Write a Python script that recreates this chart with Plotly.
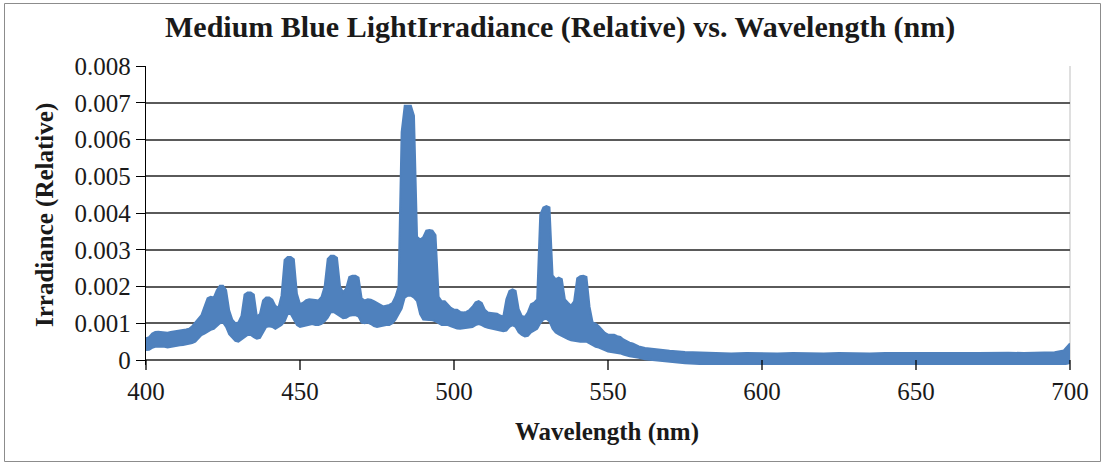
import plotly.graph_objects as go

# ---- data (band edges of the noisy spectrum) ----
wavelength_nm = [
    400, 401, 402, 403, 404, 405, 406, 407, 408, 409,
    410, 411, 412, 413, 414, 415, 416, 417, 418, 419,
    420, 421, 422, 423, 424, 425, 426, 427, 428, 429,
    430, 431, 432, 433, 434, 435, 436, 437, 438, 439,
    440, 441, 442, 443, 444, 445, 446, 447, 448, 449,
    450, 451, 452, 453, 454, 455, 456, 457, 458, 459,
    460, 461, 462, 463, 464, 465, 466, 467, 468, 469,
    470, 471, 472, 473, 474, 475, 476, 477, 478, 479,
    480, 481, 482, 483, 484, 485, 486, 487, 488, 489,
    490, 491, 492, 493, 494, 495, 496, 497, 498, 499,
    500, 501, 502, 503, 504, 505, 506, 507, 508, 509,
    510, 511, 512, 513, 514, 515, 516, 517, 518, 519,
    520, 521, 522, 523, 524, 525, 526, 527, 528, 529,
    530, 531, 532, 533, 534, 535, 536, 537, 538, 539,
    540, 541, 542, 543, 544, 545, 546, 547, 548, 549,
    550, 551, 552, 553, 554, 555, 556, 557, 558, 559,
    560, 562, 564, 566, 568, 570, 575, 580, 585, 590,
    595, 600, 605, 610, 615, 620, 625, 630, 635, 640,
    645, 650, 655, 660, 665, 670, 675, 680, 685, 690,
    695, 698, 699, 700,
]

irradiance_upper = [
    0.00059, 0.00062, 0.00072, 0.00076, 0.00077, 0.00076, 0.00075, 0.00074, 0.00076, 0.00078,
    0.00080, 0.00080, 0.00082, 0.00083, 0.00085, 0.00092, 0.00102, 0.00115, 0.00122, 0.00145,
    0.00168, 0.00172, 0.00170, 0.00190, 0.00202, 0.00202, 0.00190, 0.00135, 0.00110, 0.00100,
    0.00102, 0.00120, 0.00178, 0.00184, 0.00184, 0.00178, 0.00118, 0.00125, 0.00162, 0.00170,
    0.00170, 0.00164, 0.00147, 0.00142, 0.00175, 0.00272, 0.00280, 0.00280, 0.00274, 0.00180,
    0.00152, 0.00156, 0.00163, 0.00165, 0.00165, 0.00163, 0.00162, 0.00172, 0.00200, 0.00275,
    0.00284, 0.00284, 0.00278, 0.00200, 0.00184, 0.00195, 0.00226, 0.00229, 0.00229, 0.00224,
    0.00168, 0.00162, 0.00165, 0.00164, 0.00160, 0.00155, 0.00150, 0.00146, 0.00148, 0.00150,
    0.00155, 0.00172, 0.00200, 0.00620, 0.00692, 0.00692, 0.00692, 0.00665, 0.00335, 0.00328,
    0.00334, 0.00352, 0.00354, 0.00352, 0.00340, 0.00172, 0.00160, 0.00160, 0.00152, 0.00142,
    0.00137, 0.00137, 0.00131, 0.00129, 0.00131, 0.00136, 0.00145, 0.00157, 0.00160, 0.00155,
    0.00137, 0.00129, 0.00128, 0.00126, 0.00126, 0.00121, 0.00118, 0.00165, 0.00188, 0.00192,
    0.00188, 0.00138, 0.00120, 0.00117, 0.00130, 0.00152, 0.00156, 0.00165, 0.00395, 0.00415,
    0.00419, 0.00415, 0.00230, 0.00220, 0.00224, 0.00220, 0.00165, 0.00156, 0.00148, 0.00160,
    0.00222, 0.00228, 0.00229, 0.00226, 0.00145, 0.00102, 0.00099, 0.00092, 0.00082, 0.00074,
    0.00069, 0.00069, 0.00069, 0.00065, 0.00063, 0.00056, 0.00051, 0.00047, 0.00045, 0.00041,
    0.00037, 0.00033, 0.00031, 0.00029, 0.00027, 0.00025, 0.00022, 0.00020, 0.00019, 0.00018,
    0.00019, 0.00018, 0.00018, 0.00019, 0.00018, 0.00018, 0.00019, 0.00018, 0.00018, 0.00019,
    0.00018, 0.00019, 0.00019, 0.00020, 0.00019, 0.00019, 0.00020, 0.00020, 0.00019, 0.00020,
    0.00021, 0.00026, 0.00035, 0.00045,
]

irradiance_lower = [
    0.00027, 0.00028, 0.00033, 0.00036, 0.00036, 0.00037, 0.00036, 0.00034, 0.00036, 0.00038,
    0.00039, 0.00040, 0.00041, 0.00042, 0.00044, 0.00046, 0.00050, 0.00060, 0.00068, 0.00072,
    0.00078, 0.00082, 0.00085, 0.00092, 0.00100, 0.00102, 0.00090, 0.00070, 0.00062, 0.00052,
    0.00050, 0.00055, 0.00062, 0.00068, 0.00068, 0.00062, 0.00058, 0.00060, 0.00075, 0.00090,
    0.00092, 0.00090, 0.00085, 0.00090, 0.00095, 0.00105, 0.00125, 0.00125, 0.00110, 0.00095,
    0.00090, 0.00092, 0.00095, 0.00098, 0.00098, 0.00095, 0.00095, 0.00098, 0.00105, 0.00115,
    0.00130, 0.00130, 0.00125, 0.00118, 0.00114, 0.00115, 0.00120, 0.00122, 0.00122, 0.00118,
    0.00102, 0.00100, 0.00102, 0.00098, 0.00092, 0.00090, 0.00092, 0.00092, 0.00095, 0.00095,
    0.00100, 0.00110, 0.00125, 0.00140, 0.00170, 0.00175, 0.00175, 0.00170, 0.00160, 0.00125,
    0.00110, 0.00110, 0.00110, 0.00108, 0.00105, 0.00100, 0.00095, 0.00095, 0.00095, 0.00092,
    0.00088, 0.00086, 0.00085, 0.00086, 0.00088, 0.00088, 0.00090, 0.00095, 0.00098, 0.00095,
    0.00090, 0.00088, 0.00086, 0.00085, 0.00083, 0.00080, 0.00078, 0.00080, 0.00090, 0.00095,
    0.00090, 0.00075, 0.00068, 0.00064, 0.00066, 0.00075, 0.00080, 0.00085, 0.00100, 0.00110,
    0.00112, 0.00105, 0.00085, 0.00075, 0.00070, 0.00065, 0.00060, 0.00057, 0.00054, 0.00052,
    0.00052, 0.00050, 0.00050, 0.00050, 0.00045, 0.00040, 0.00036, 0.00034, 0.00030, 0.00026,
    0.00023, 0.00022, 0.00021, 0.00019, 0.00018, 0.00015, 0.00012, 0.00010, 0.00009, 0.00008,
    0.00006, 0.00002, 0.00000, -0.00002, -0.00004, -0.00006, -0.00009, -0.00011, -0.00012, -0.00012,
    -0.00013, -0.00012, -0.00013, -0.00012, -0.00012, -0.00013, -0.00012, -0.00013, -0.00012, -0.00012,
    -0.00013, -0.00012, -0.00013, -0.00012, -0.00012, -0.00013, -0.00012, -0.00013, -0.00012, -0.00012,
    -0.00013, -0.00012, -0.00010, -0.00008,
]

x_tick_values = [400, 450, 500, 550, 600, 650, 700]
y_tick_values = [0, 0.001, 0.002, 0.003, 0.004, 0.005, 0.006, 0.007, 0.008]
y_tick_labels = ["0", "0.001", "0.002", "0.003", "0.004", "0.005", "0.006", "0.007", "0.008"]

chart_title = "Medium Blue LightIrradiance (Relative) vs. Wavelength (nm)"
x_title = "Wavelength (nm)"
y_title = "Irradiance (Relative)"

# ---- styling ----
BLUE = "#4F81BD"
FONT = "Liberation Serif"
TXT = "#1a1a1a"
W, H = 1104, 463
L, R, T, B = 146, 34, 66, 98          # plot area: x 146..1070, y 66..365
PW, PH = W - L - R, H - T - B
X_RANGE = [400, 700]
Y_RANGE = [-0.000136, 0.008]          # value 0 sits at y = 360 px


def px_x(px):
    return (px - L) / PW


def px_y(py):
    return (H - B - py) / PH


fig = go.Figure()
fig.add_trace(go.Scatter(
    x=wavelength_nm, y=irradiance_lower, mode="lines",
    line=dict(color=BLUE, width=2), hoverinfo="skip", showlegend=False,
))
fig.add_trace(go.Scatter(
    x=wavelength_nm, y=irradiance_upper, mode="lines",
    line=dict(color=BLUE, width=2), fill="tonexty", fillcolor=BLUE,
    name="Irradiance", showlegend=False,
))

fig.update_layout(
    width=W, height=H,
    margin=dict(l=L, r=R, t=T, b=B),
    paper_bgcolor="white", plot_bgcolor="white",
    font=dict(family=FONT, size=25, color=TXT),
    showlegend=False,
)

fig.update_xaxes(
    range=X_RANGE, tickvals=x_tick_values,
    showgrid=False, zeroline=False, showline=False,
    ticks="outside", ticklen=4, tickcolor="rgba(0,0,0,0)",
    tickfont=dict(family=FONT, size=25, color=TXT),
)
fig.update_yaxes(
    range=Y_RANGE, tickvals=y_tick_values, ticktext=y_tick_labels,
    showgrid=True, gridcolor="#5a5a5a", gridwidth=1.5, zeroline=False,
    showline=True, linecolor="black", linewidth=1.3,
    ticks="outside", ticklen=9, tickwidth=1.3, tickcolor="black",
    tickfont=dict(family=FONT, size=25, color=TXT),
    layer="below traces",
)

# x axis line at value 0 (under the data band) and its tick marks
fig.add_shape(type="line", xref="paper", yref="y", x0=0, x1=1, y0=0, y1=0,
              line=dict(color="black", width=1.3), layer="between")
for v in x_tick_values:
    xp = (v - X_RANGE[0]) / (X_RANGE[1] - X_RANGE[0])
    fig.add_shape(type="line", xref="paper", yref="paper", x0=xp, x1=xp,
                  y0=px_y(360), y1=px_y(370), line=dict(color="black", width=1.3))

# plot-area right edge (light grey) and whole-chart border
fig.add_shape(type="line", xref="paper", yref="paper", x0=1, x1=1, y0=px_y(360), y1=1,
              line=dict(color="#BFBFBF", width=1), layer="below")
fig.add_shape(type="rect", xref="paper", yref="paper",
              x0=px_x(4.5), x1=px_x(1100.5), y0=px_y(461.5), y1=px_y(3.5),
              line=dict(color="#8C8C8C", width=1), layer="below")

fig.add_annotation(text="<b>" + chart_title + "</b>", xref="paper", yref="paper",
                   x=px_x(560), y=px_y(27), xanchor="center", yanchor="middle",
                   showarrow=False, font=dict(family=FONT, size=30, color=TXT))
fig.add_annotation(text="<b>" + x_title + "</b>", xref="paper", yref="paper",
                   x=px_x(607), y=px_y(432), xanchor="center", yanchor="middle",
                   showarrow=False, font=dict(family=FONT, size=25, color=TXT))
fig.add_annotation(text="<b>" + y_title + "</b>", xref="paper", yref="paper",
                   x=px_x(45), y=px_y(215), xanchor="center", yanchor="middle",
                   textangle=-90, showarrow=False,
                   font=dict(family=FONT, size=25, color=TXT))

fig.write_html("out.html")
